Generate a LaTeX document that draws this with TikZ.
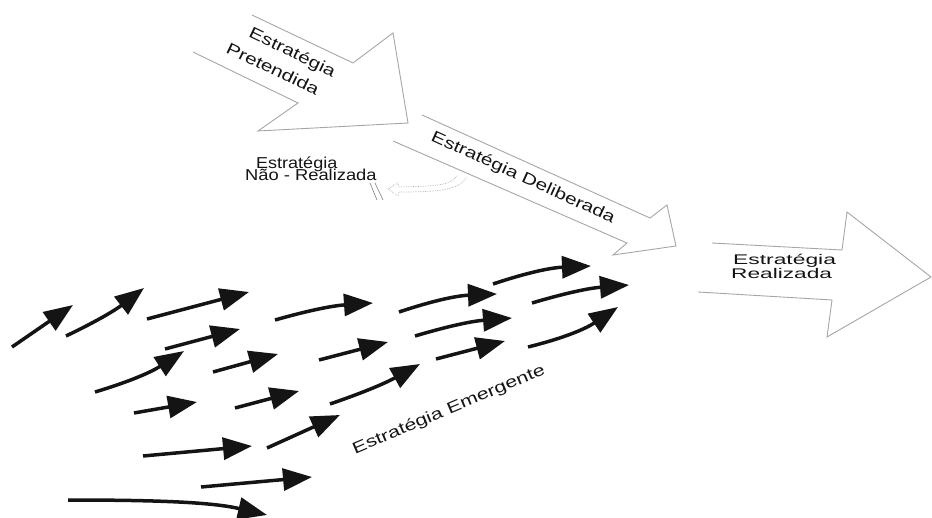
\documentclass[tikz,border=0pt]{standalone}
\usepackage{fontspec}
\setmainfont{Liberation Sans}
\usetikzlibrary{arrows.meta}
\newcommand{\wtxt}[2]{\scalebox{#1}[1]{#2}}
\begin{document}
\begin{tikzpicture}[x=1pt,y=-1pt,
  bigarrow/.style={draw=black!35, line width=0.9pt, fill=white, line join=miter},
  blk/.style={line width=3.5pt, black!92, -{Triangle[length=29pt,width=22pt]}},
  lbl/.style={inner sep=0pt, text=black!92},
  ghost/.style={draw=black!30, densely dotted, line width=0.7pt},
]
\useasboundingbox (0,0) rectangle (932,518);

% big hollow arrows (open tails)
\draw[bigarrow] (252,15) -- (353,63) -- (393,33) -- (408,123) -- (258,131) -- (298,103) -- (193,52);
\draw[bigarrow] (422,115) -- (650,218) -- (667,205) -- (676,246) -- (613,255) -- (627,243) -- (393,141);
\draw[bigarrow] (712,243) -- (842,250) -- (847,212) -- (931,277) -- (827,337) -- (832,300) -- (698,292);

% unrealized strategy: dotted hollow curved arrow and stop mark
\draw[ghost] (457,176) .. controls (450,186) and (435,186) .. (399,187) -- (398,183) -- (388,189)
  -- (398,196) -- (399,192) .. controls (440,192) and (459,190) .. (467,177);
\draw[draw=black!45, line width=0.7pt] (370,183) -- (377,200) (375,183) -- (383,200);

% labels
\node[lbl, rotate=-25.6] (pA) at (292,53) {\fontsize{16}{16}\selectfont\wtxt{1.3}{Estratégia}};
\node[lbl, rotate=-25.6] (pB) at (273,69) {\fontsize{16}{16}\selectfont\wtxt{1.3}{Pretendida}};
\node[lbl, rotate=-24.5] (dl) at (523,178) {\fontsize{16}{16}\selectfont\wtxt{1.3}{Estratégia Deliberada}};
\node[lbl, anchor=base west] (nA) at (256,168.7) {\fontsize{15.8}{16}\selectfont\wtxt{1.14}{Estratégia}};
\node[lbl, anchor=base west] (nB) at (245,180.7) {\fontsize{15.8}{16}\selectfont\wtxt{1.16}{Não - Realizada}};
\node[lbl, anchor=base west] (rA) at (733,264.3) {\fontsize{14}{14}\selectfont\wtxt{1.63}{Estratégia}};
\node[lbl, anchor=base west] (rB) at (731,278.3) {\fontsize{14}{14}\selectfont\wtxt{1.62}{Realizada}};
\node[lbl, rotate=23] (em) at (449,410) {\fontsize{16}{16}\selectfont\wtxt{1.34}{Estratégia Emergente}};

% emergent strategy: black arrows
\draw[blk] (12,347) -- (73,305);
\draw[blk] (66,336) to[bend right=6] (144,288);
\draw[blk] (147,319) -- (249,292);
\draw[blk] (165,349) -- (240,329);
\draw[blk] (95,392) to[bend right=8] (184,351);
\draw[blk] (213,372) -- (278,354);
\draw[blk] (134,413) -- (197,402);
\draw[blk] (235,408) -- (299,391);
\draw[blk] (143,456) -- (252,446);
\draw[blk] (267,448) -- (340,415);
\draw[blk] (201,487) -- (312,477);
\draw[blk] (68,500) .. controls (170,500) and (215,503) .. (267,515);
\draw[blk] (275,320) to[bend left=6] (373,303);
\draw[blk] (319,360) -- (388,342);
\draw[blk] (330,404) to[bend right=5] (420,364);
\draw[blk] (399,312) to[bend left=8] (497,294);
\draw[blk] (415,336) to[bend left=6] (512,318);
\draw[blk] (436,359) -- (505,341);
\draw[blk] (493,284) to[bend left=8] (591,266);
\draw[blk] (532,303) to[bend left=6] (629,285);
\draw[blk] (528,347) to[bend right=10] (618,307);
\end{tikzpicture}
\end{document}
